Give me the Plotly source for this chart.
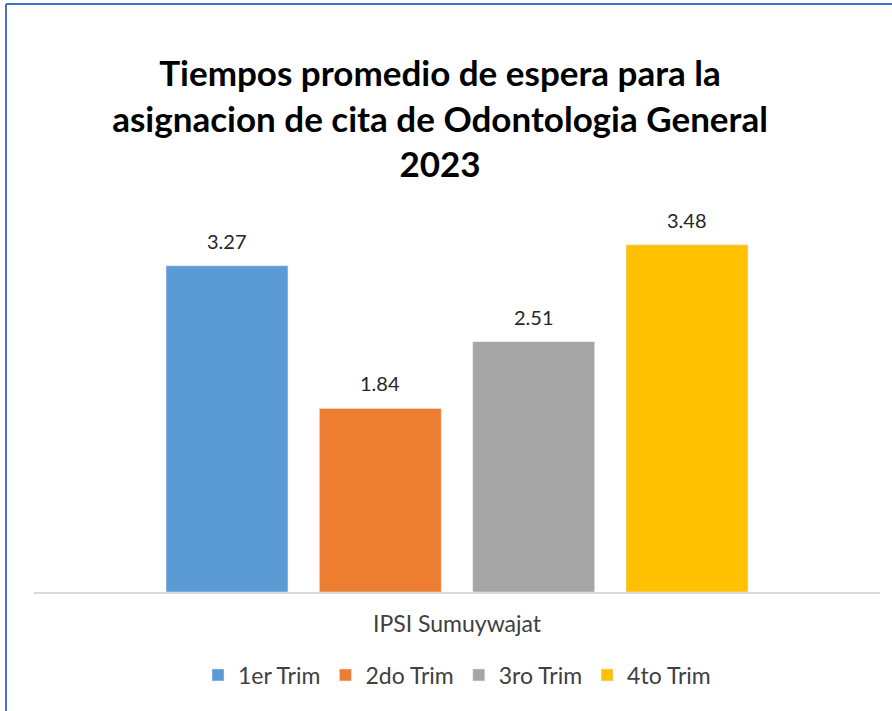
import plotly.graph_objects as go

category = ["IPSI Sumuywajat"]
series_names = ["1er Trim", "2do Trim", "3ro Trim", "4to Trim"]
series_values = [3.27, 1.84, 2.51, 3.48]
colors = ["#5B9BD5", "#ED7D31", "#A5A5A5", "#FFC000"]
title_lines = ["Tiempos promedio de espera para la",
               "asignacion de cita de Odontologia General",
               "2023"]

W, H = 892, 711
ml, mr, mt, mb = 34, 12, 193, 119
bargap, bargroupgap = 0.275, 0.205

fig = go.Figure()
for name, val, col in zip(series_names, series_values, colors):
    fig.add_trace(go.Bar(
        x=category, y=[val], name=name, marker_color=col,
    ))

pw = W - ml - mr
ph = H - mt - mb
def px_x(p):
    return (p - ml) / pw
def px_y(p):
    return (H - mb - p) / ph

slot = pw * (1 - bargap) / len(series_values)
annotations = []
for i, val in enumerate(series_values):
    annotations.append(dict(
        x=0, y=val, xref="x", yref="y", text=f"{val:.2f}", showarrow=False,
        xshift=(i - (len(series_values) - 1) / 2) * slot, yshift=25,
        font=dict(family="Lato", size=20, color="#262626"),
    ))

fig.update_layout(
    width=W, height=H,
    margin=dict(l=ml, r=mr, t=mt, b=mb),
    paper_bgcolor="white", plot_bgcolor="white",
    barmode="group", bargap=bargap, bargroupgap=bargroupgap,
    title=dict(text="<br>".join(title_lines), x=440 / W, xanchor="center",
               y=1 - 86 / H, yanchor="middle",
               font=dict(family="Lato", size=35, color="#000000", weight="bold")),
    xaxis=dict(showline=True, linecolor="#D9D9D9", linewidth=2,
               ticks="", ticklabelstandoff=10,
               tickfont=dict(family="Lato", size=23, color="#404040"),
               showgrid=False, zeroline=False),
    yaxis=dict(range=[0, 4], visible=False, showgrid=False, zeroline=False),
    legend=dict(orientation="h", x=0.5, xanchor="center", y=px_y(675), yanchor="middle",
                font=dict(family="Lato", size=23, color="#404040"),
                traceorder="normal", itemwidth=30),
    showlegend=True,
    annotations=annotations,
    shapes=[
        dict(type="line", xref="paper", yref="paper", x0=px_x(6), x1=px_x(900),
             y0=px_y(4), y1=px_y(4), line=dict(color="#4472C4", width=2)),
        dict(type="line", xref="paper", yref="paper", x0=px_x(6), x1=px_x(6),
             y0=px_y(4), y1=px_y(720), line=dict(color="#4472C4", width=2)),
    ],
)
fig.write_html("out.html", config={"displayModeBar": False},
               post_script="document.body.style.margin='0';document.body.style.overflow='hidden';")
